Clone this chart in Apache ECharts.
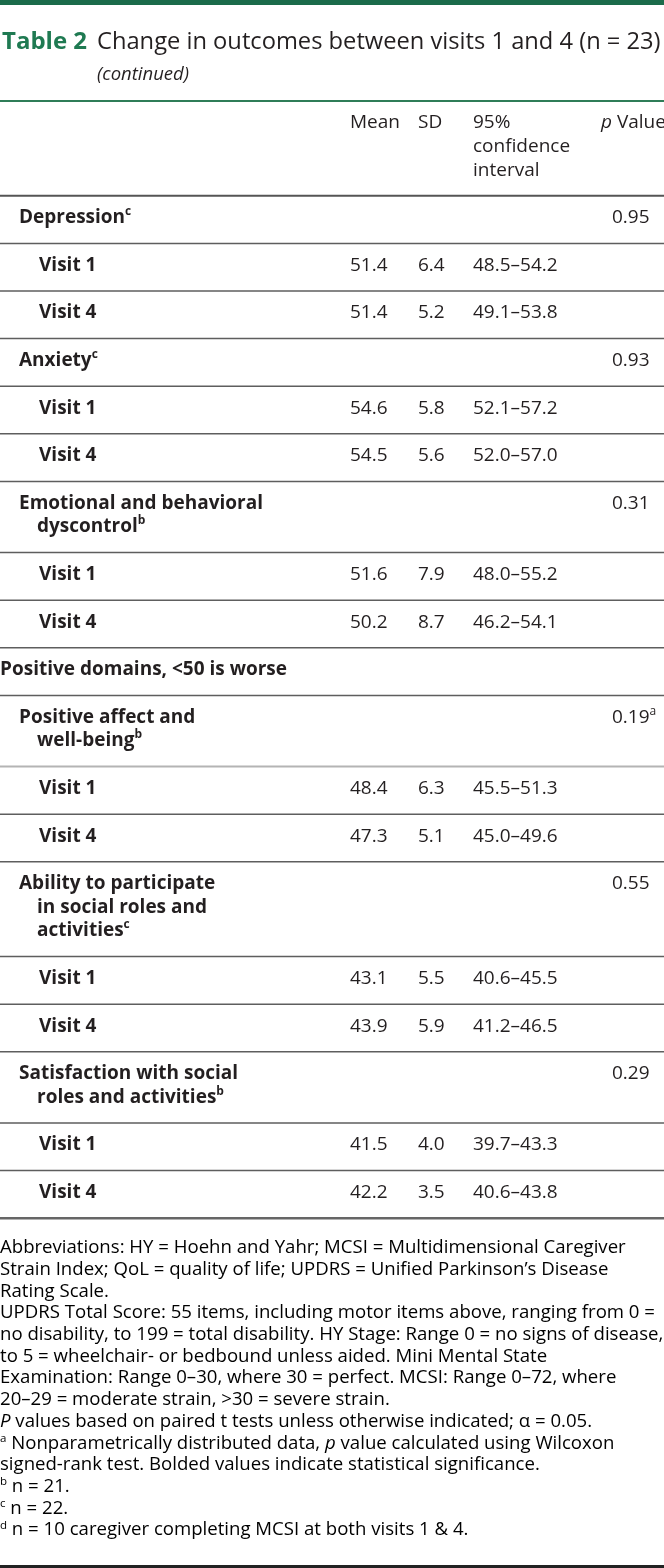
<!DOCTYPE html>
<html>
<head>
<meta charset="utf-8">
<script src="https://cdn.jsdelivr.net/npm/echarts@6/dist/echarts.min.js"></script>
<style>
html,body{margin:0;padding:0;background:#ffffff;}
#chart{width:664px;height:1568px;}
</style>
</head>
<body>
<div id="chart"></div>
<script>
// ---------------- data ----------------
const tableTitle = 'Table 2';
const tableCaption = 'Change in outcomes between visits 1 and 4 (n = 23)';
const tableContinued = '(continued)';
const columnHeaders = ['Mean', 'SD', ['95%', 'confidence', 'interval'], 'Value'];
const sectionTitle = 'Positive domains, <50 is worse';
const sectionBeforeIndex = 3;
const outcomeLabels = [
  ['Depression'],
  ['Anxiety'],
  ['Emotional and behavioral', 'dyscontrol'],
  ['Positive affect and', 'well-being'],
  ['Ability to participate', 'in social roles and', 'activities'],
  ['Satisfaction with social', 'roles and activities']
];
const outcomeNotes = ['c', 'c', 'b', 'b', 'c', 'b'];
const pValues = ['0.95', '0.93', '0.31', '0.19', '0.55', '0.29'];
const pNotes = ['', '', '', 'a', '', ''];
const visitLabels = ['Visit 1', 'Visit 4'];
const visit1Mean = [51.4, 54.6, 51.6, 48.4, 43.1, 41.5];
const visit1SD = [6.4, 5.8, 7.9, 6.3, 5.5, 4.0];
const visit1CI = ['48.5–54.2', '52.1–57.2', '48.0–55.2', '45.5–51.3', '40.6–45.5', '39.7–43.3'];
const visit4Mean = [51.4, 54.5, 50.2, 47.3, 43.9, 42.2];
const visit4SD = [5.2, 5.6, 8.7, 5.1, 5.9, 3.5];
const visit4CI = ['49.1–53.8', '52.0–57.0', '46.2–54.1', '45.0–49.6', '41.2–46.5', '40.6–43.8'];
const footnoteLines = [
  '{r|Abbreviations: HY = Hoehn and Yahr; MCSI = Multidimensional Caregiver}',
  '{r|Strain Index; QoL = quality of life; UPDRS = Unified Parkinson’s Disease}',
  '{r|Rating Scale.}',
  '{r|UPDRS Total Score: 55 items, including motor items above, ranging from 0 =}',
  '{r|no disability, to 199 = total disability. HY Stage: Range 0 = no signs of disease,}',
  '{r|to 5 = wheelchair- or bedbound unless aided. Mini Mental State}',
  '{r|Examination: Range 0–30, where 30 = perfect. MCSI: Range 0–72, where}',
  '{r|20–29 = moderate strain, >30 = severe strain.}',
  '{i|P}{r| values based on paired t tests unless otherwise indicated; α = 0.05.}',
  '{s|a}{r| Nonparametrically distributed data, }{i|p}{r| value calculated using Wilcoxon}',
  '{r|signed-rank test. Bolded values indicate statistical significance.}',
  '{s|b}{r| n = 21.}',
  '{s|c}{r| n = 22.}',
  '{s|d}{r| n = 10 caregiver completing MCSI at both visits 1 & 4.}'
];

// ---------------- layout / style ----------------
const FONT = '"Open Sans", "Noto Sans", sans-serif';
const TEXT = '#231f20';
const GREEN = '#1b6b4a';
const LINE = 23.6, PAD = 24, FIRST = 22;
const WIDTH = 664;
const FS = 19, FS_SUP = 12, FS_FOOT = 18.6;
const COL = {label: 19, indent: 37, visit: 39, mean: 350, sd: 418, ci: 473, p: 612, pHead: 601};
const lightRuleRows = new Set(['outcome-3']);

// build the table rows from the data arrays
const rows = [{kind: 'header', lines: 3}];
outcomeLabels.forEach((lab, i) => {
  if (i === sectionBeforeIndex) rows.push({kind: 'section', lines: 1, text: sectionTitle});
  rows.push({kind: 'outcome', idx: i, lines: lab.length, label: lab, note: outcomeNotes[i], p: pValues[i], pNote: pNotes[i]});
  rows.push({kind: 'visit', lines: 1, label: visitLabels[0], mean: visit1Mean[i], sd: visit1SD[i], ci: visit1CI[i]});
  rows.push({kind: 'visit', lines: 1, label: visitLabels[1], mean: visit4Mean[i], sd: visit4SD[i], ci: visit4CI[i]});
});
let acc = 0;
const rowData = rows.map((r, i) => { const top = acc; acc += r.lines * LINE + PAD; return [i, top, acc]; });
const TOTAL = acc;

const boldRich = {
  b: {fontFamily: FONT, fontWeight: 'bold', fontSize: FS, color: TEXT, lineHeight: 24},
  s: {fontFamily: FONT, fontWeight: 'bold', fontSize: FS_SUP, color: TEXT, lineHeight: 14, verticalAlign: 'top'}
};
const regRich = {
  r: {fontFamily: FONT, fontSize: FS, color: TEXT, lineHeight: 24},
  i: {fontFamily: FONT, fontStyle: 'italic', fontSize: FS, color: TEXT, lineHeight: 24},
  s: {fontFamily: FONT, fontSize: FS_SUP, color: TEXT, lineHeight: 14, verticalAlign: 'top'}
};

function txt(x, y, text, rich) {
  return {type: 'text', x: x, y: y, style: {text: text, rich: rich, align: 'left', verticalAlign: 'middle', fill: TEXT}};
}

function renderItem(params, api) {
  const r = rows[api.value(0)];
  const yTop = api.coord([0, api.value(1)])[1];
  const yBot = api.coord([0, api.value(2)])[1];
  const X = v => api.coord([v, 0])[0];
  const yl = k => yTop + FIRST + k * LINE;
  const ch = [];
  const last = api.value(0) === rows.length - 1;
  if (r.kind === 'header') {
    ch.push({type: 'line', shape: {x1: X(0), y1: yTop, x2: X(WIDTH), y2: yTop}, style: {stroke: '#2f7d58', lineWidth: 2}});
    ch.push(txt(X(COL.mean), yl(0), '{r|' + columnHeaders[0] + '}', regRich));
    ch.push(txt(X(COL.sd), yl(0), '{r|' + columnHeaders[1] + '}', regRich));
    columnHeaders[2].forEach((t, k) => ch.push(txt(X(COL.ci), yl(k), '{r|' + t + '}', regRich)));
    ch.push(txt(X(COL.pHead), yl(0), '{i|p}{r| ' + columnHeaders[3] + '}', regRich));
  } else if (r.kind === 'section') {
    ch.push(txt(X(0), yl(0), '{b|' + r.text + '}', boldRich));
  } else if (r.kind === 'outcome') {
    r.label.forEach((t, k) => {
      const isLast = k === r.label.length - 1;
      ch.push(txt(X(k === 0 ? COL.label : COL.indent), yl(k), '{b|' + t + '}' + (isLast ? '{s|' + r.note + '}' : ''), boldRich));
    });
    ch.push(txt(X(COL.p), yl(0), '{r|' + r.p + '}' + (r.pNote ? '{s|' + r.pNote + '}' : ''), regRich));
  } else {
    ch.push(txt(X(COL.visit), yl(0), '{b|' + r.label + '}', boldRich));
    ch.push(txt(X(COL.mean), yl(0), '{r|' + r.mean.toFixed(1) + '}', regRich));
    ch.push(txt(X(COL.sd), yl(0), '{r|' + r.sd.toFixed(1) + '}', regRich));
    ch.push(txt(X(COL.ci), yl(0), '{r|' + r.ci + '}', regRich));
  }
  let stroke = '#5e5e5e', lw = 1.5;
  if (r.kind === 'header') { stroke = '#555555'; lw = 2; }
  if (r.kind === 'outcome' && lightRuleRows.has('outcome-' + r.idx)) { stroke = '#b4b4b4'; lw = 2; }
  if (last) { stroke = '#666666'; lw = 2.5; }
  ch.push({type: 'line', shape: {x1: X(0), y1: yBot, x2: X(WIDTH), y2: yBot}, style: {stroke: stroke, lineWidth: lw}});
  return {type: 'group', children: ch};
}

const chart = echarts.init(document.getElementById('chart'), null, {renderer: 'canvas'});
chart.setOption({
  animation: false,
  backgroundColor: '#ffffff',
  grid: {left: 0, right: 0, top: 101, height: TOTAL},
  xAxis: {type: 'value', min: 0, max: WIDTH, show: false},
  yAxis: {type: 'value', min: 0, max: TOTAL, inverse: true, show: false},
  series: [{
    type: 'custom',
    renderItem: renderItem,
    data: rowData,
    clip: false,
    silent: true
  }],
  graphic: [
    {type: 'rect', left: 0, top: 0, shape: {width: WIDTH, height: 5}, style: {fill: GREEN}},
    {type: 'text', x: 2, y: 42, style: {text: tableTitle, fill: '#1f7a52', font: 'bold 24px ' + FONT, verticalAlign: 'middle'}},
    {type: 'text', x: 97, y: 42, style: {text: tableCaption, fill: TEXT, font: '23.7px ' + FONT, verticalAlign: 'middle'}},
    {type: 'text', x: 97, y: 75, style: {text: tableContinued, fill: TEXT, font: 'italic 18.5px ' + FONT, verticalAlign: 'middle'}},
    {type: 'text', x: 0, y: 1248 - 10.85, style: {
      text: footnoteLines.join('\n'),
      verticalAlign: 'top',
      rich: {
        r: {fontFamily: FONT, fontSize: FS_FOOT, color: TEXT, lineHeight: 21.7},
        i: {fontFamily: FONT, fontStyle: 'italic', fontSize: FS_FOOT, color: TEXT, lineHeight: 21.7},
        s: {fontFamily: FONT, fontSize: 11.5, color: TEXT, lineHeight: 13, verticalAlign: 'top'}
      }
    }},
    {type: 'rect', left: 0, top: 1565, shape: {width: WIDTH, height: 3}, style: {fill: '#222222'}}
  ]
});
</script>
</body>
</html>
